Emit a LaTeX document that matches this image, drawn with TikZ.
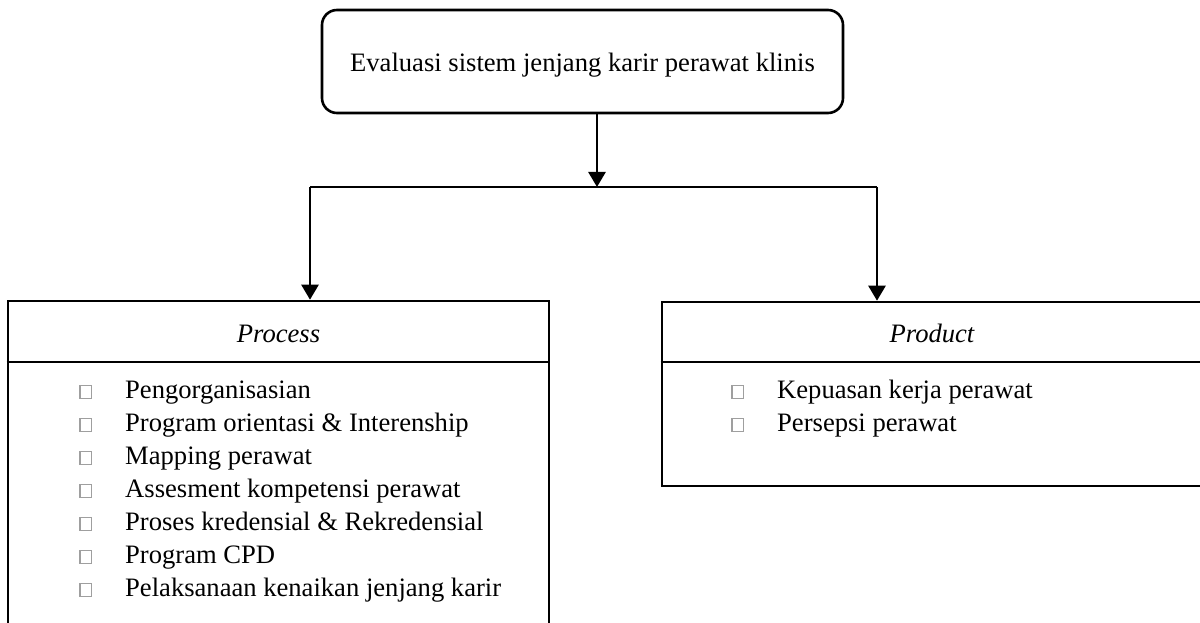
\documentclass[tikz,border=0pt]{standalone}
\usepackage{fontspec}
\setmainfont{Liberation Serif}
\usetikzlibrary{arrows.meta}

% hollow grey square used as the list bullet
\newcommand\sqbullet{{\color{gray!75}\setlength\fboxsep{0pt}\setlength\fboxrule{1.3pt}\fbox{\rule{0pt}{12pt}\hspace{10pt}}}}

\tikzset{
  frame/.style={draw=black, line width=2.6pt},
  topbox/.style={frame, rounded corners=15pt, minimum width=521pt, minimum height=103pt, inner sep=0pt},
  panel/.style={frame, inner sep=0pt},
  link/.style={draw=black, line width=2.6pt},
  arrowlink/.style={link, -{Triangle[width=17pt,length=15pt]}},
  txt/.style={font=\fontsize{26.6}{33}\selectfont, inner sep=0pt},
}

\begin{document}
\begin{tikzpicture}[x=1pt, y=-1pt]
  \useasboundingbox (0,0) rectangle (1200,623);
  \clip (0,0) rectangle (1200,623);
  \fill[white] (0,0) rectangle (1200,623);

  % top element
  \node[topbox] (top) at (582.5,61.5) {};
  \node[txt, anchor=base] (toptitle) at (582.5,72) {Evaluasi sistem jenjang karir perawat klinis};

  % the two lower panels (both run past the edges of the page)
  \node[panel, minimum width=541pt, minimum height=339pt] (proc) at (278.5,470.5) {};
  \node[panel, minimum width=540pt, minimum height=184pt] (prod) at (932,394) {};
  \draw[link] (proc.west |- 0,362) -- (proc.east |- 0,362);
  \draw[link] (prod.west |- 0,362) -- (prod.east |- 0,362);

  % panel headings
  \node[txt, anchor=base] (prochead) at (278.5,342) {\itshape Process};
  \node[txt, anchor=base] (prodhead) at (932,342) {\itshape Product};

  % panel lists
  \node[txt, anchor=base west] (proclist) at (79,398) {%
    \begin{tabular}[t]{@{}l@{\hspace{33.4pt}}l@{}}
      \sqbullet & Pengorganisasian\\
      \sqbullet & Program orientasi \& Interenship\\
      \sqbullet & Mapping perawat\\
      \sqbullet & Assesment kompetensi perawat\\
      \sqbullet & Proses kredensial \& Rekredensial\\
      \sqbullet & Program CPD\\
      \sqbullet & Pelaksanaan kenaikan jenjang karir
    \end{tabular}};
  \node[txt, anchor=base west] (prodlist) at (731,398) {%
    \begin{tabular}[t]{@{}l@{\hspace{33.4pt}}l@{}}
      \sqbullet & Kepuasan kerja perawat\\
      \sqbullet & Persepsi perawat
    \end{tabular}};

  % connectors
  \coordinate (split) at (597,187);
  \coordinate (splitL) at (310,187);
  \coordinate (splitR) at (877,187);
  \draw[arrowlink] (top.south -| split) -- (split);
  \draw[link] (splitL) -- (splitR);
  \draw[arrowlink] (splitL) -- (proc.north -| splitL);
  \draw[arrowlink] (splitR) -- (prod.north -| splitR);
\end{tikzpicture}
\end{document}
